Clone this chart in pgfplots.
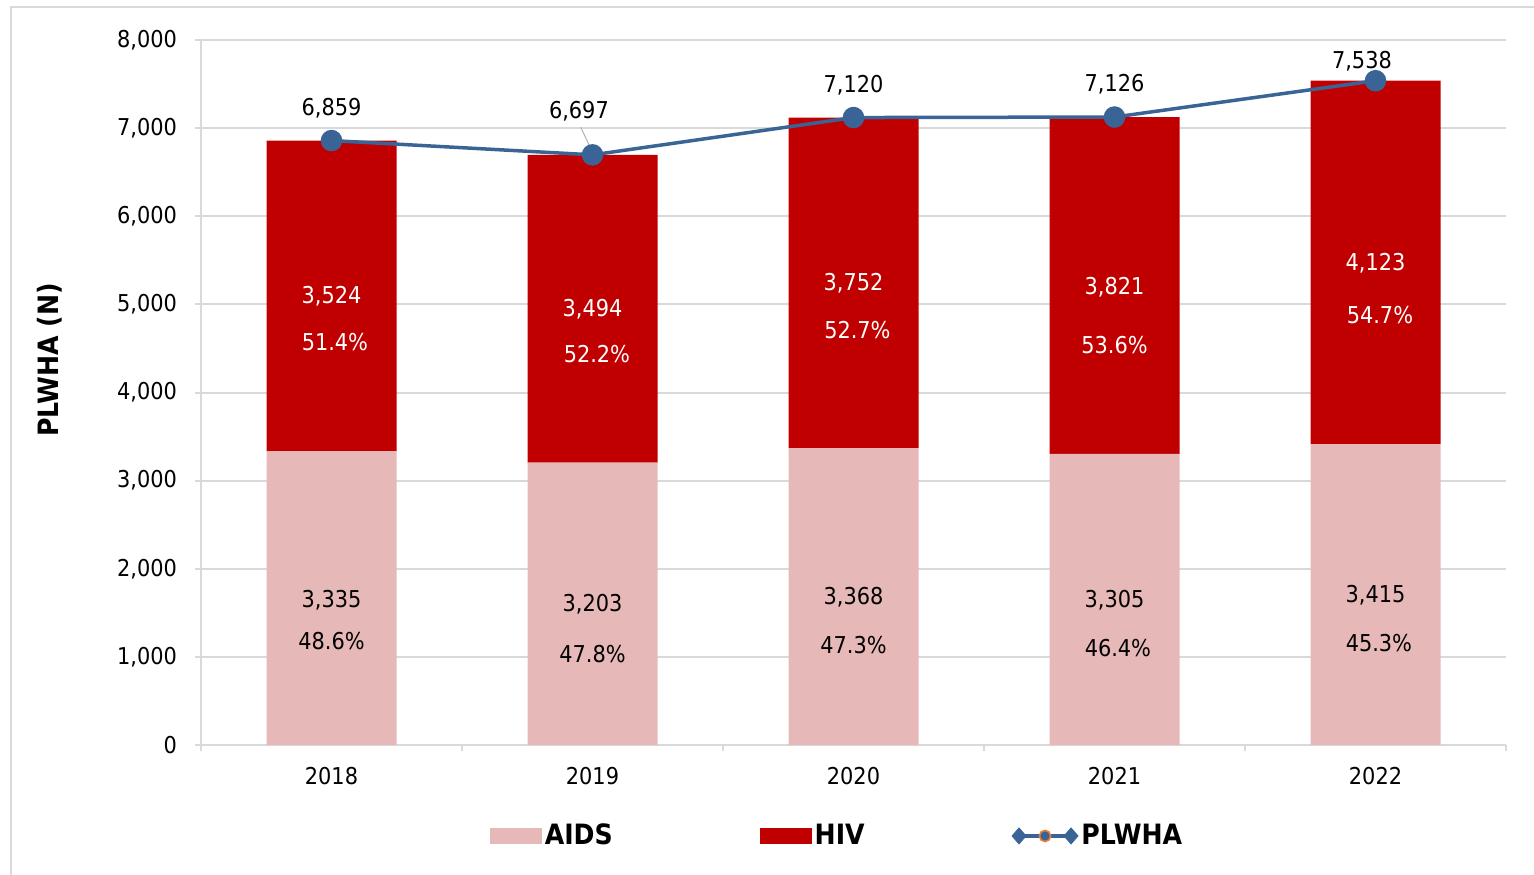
\documentclass[border=0pt]{standalone}
\usepackage{fontspec}
\setmainfont{DejaVu Sans Condensed}
\usepackage{pgfplots}
\pgfplotsset{compat=1.18}
\definecolor{aids}{RGB}{230,184,183}
\definecolor{hiv}{RGB}{192,0,0}
\definecolor{plw}{RGB}{59,100,150}
\definecolor{gridc}{RGB}{217,217,217}
\definecolor{legor}{RGB}{237,125,49}
\pgfplotsset{base/.style={scale only axis, width=652.5pt, height=352.5pt,
  at={(100.5pt,64.5pt)}, anchor=south west, xmin=-0.5, xmax=4.5, ymin=0, ymax=8000}}
\begin{document}
\fontsize{11.6}{13.8}\selectfont
\begin{tikzpicture}
\useasboundingbox (0,0) rectangle (767pt,437pt);
\draw[gridc, line width=1pt] (5.5pt,-20pt) rectangle (800pt,433.5pt);
\node[rotate=90, font=\fontsize{14}{16}\selectfont\bfseries] at (25pt,257pt) {PLWHA (N)};
\begin{axis}[base, ybar stacked, bar width=65pt,
  axis x line*=bottom, axis y line*=left,
  axis line style={gridc, line width=1pt, -},
  ytick={0,1000,...,8000}, ymajorgrids, grid style={gridc, line width=1pt},
  xtick={0,...,4}, xticklabels={2018,2019,2020,2021,2022},
  minor xtick={-0.5,0.5,...,4.5},
  tick align=outside, major tick length=3pt, minor tick length=3pt,
  tick style={gridc, line width=1pt},
  major x tick style={draw=none},
  /pgf/number format/assume math mode=true,
  /pgf/number format/1000 sep={,},
  yticklabel style={xshift=-5pt},
  xticklabel style={yshift=-4pt},
  legend columns=3,
  legend style={at={(0.4877,-0.129)}, anchor=center, draw=none,
    font=\fontsize{14}{16}\selectfont\bfseries,
    /tikz/every even column/.append style={column sep=72pt},
    nodes={inner sep=1.5pt}},
  ]
\addplot[fill=aids, draw=none, legend image code/.code={\fill[aids] (0pt,-4pt) rectangle (26pt,4pt);}]
  coordinates {(0,3335) (1,3203) (2,3368) (3,3305) (4,3415)};
\addlegendentry{AIDS}
\addplot[fill=hiv, draw=none, legend image code/.code={\fill[hiv] (0pt,-4pt) rectangle (26pt,4pt);}]
  coordinates {(0,3524) (1,3494) (2,3752) (3,3821) (4,4123)};
\addlegendentry{HIV}
\addlegendimage{legend image code/.code={
  \draw[plw, line width=1.75pt] (3pt,0pt) -- (30pt,0pt);
  \fill[plw] (0pt,0pt) -- (3.5pt,4pt) -- (7pt,0pt) -- (3.5pt,-4pt) -- cycle;
  \fill[plw] (26pt,0pt) -- (29.5pt,4pt) -- (33pt,0pt) -- (29.5pt,-4pt) -- cycle;
  \filldraw[fill=plw, draw=legor, line width=0.8pt] (16.5pt,0pt) circle (2.8pt);}}
\addlegendentry{PLWHA}
\end{axis}
\begin{axis}[base, hide axis]
\addplot[gray!60, line width=0.5pt] coordinates {(0.955,7010) (0.99,6790)};
\addplot[plw, line width=1.75pt, mark=*, mark size=4.5pt, mark options={fill=plw, draw=plw}]
  coordinates {(0,6859) (1,6697) (2,7120) (3,7126) (4,7538)};
% line labels
\addplot[draw=none, nodes near coords={\pgfplotspointmeta}, point meta=explicit symbolic,
  nodes near coords style={anchor=center, text=black}]
  coordinates {(0,7228)[6,859] (0.948,7194)[6,697] (2,7489)[7,120] (3,7501)[7,126] (3.948,7762)[7,538]};
% AIDS labels
\addplot[draw=none, nodes near coords={\pgfplotspointmeta}, point meta=explicit symbolic,
  nodes near coords style={anchor=center, text=black}]
  coordinates {(0,1645)[3,335] (1,1600)[3,203] (2,1679)[3,368] (3,1645)[3,305] (4,1702)[3,415]
   (0,1180)[48.6\%] (1,1033)[47.8\%] (2,1135)[47.3\%] (3.013,1101)[46.4\%] (4.013,1157)[45.3\%]};
% HIV labels
\addplot[draw=none, nodes near coords={\pgfplotspointmeta}, point meta=explicit symbolic,
  nodes near coords style={anchor=center, text=white}]
  coordinates {(0,5095)[3,524] (1,4948)[3,494] (2,5243)[3,752] (3,5197)[3,821] (4,5470)[4,123]
   (0.013,4573)[51.4\%] (1.017,4437)[52.2\%] (2.015,4709)[52.7\%] (3,4539)[53.6\%] (4.017,4879)[54.7\%]};
\end{axis}
\end{tikzpicture}
\end{document}
